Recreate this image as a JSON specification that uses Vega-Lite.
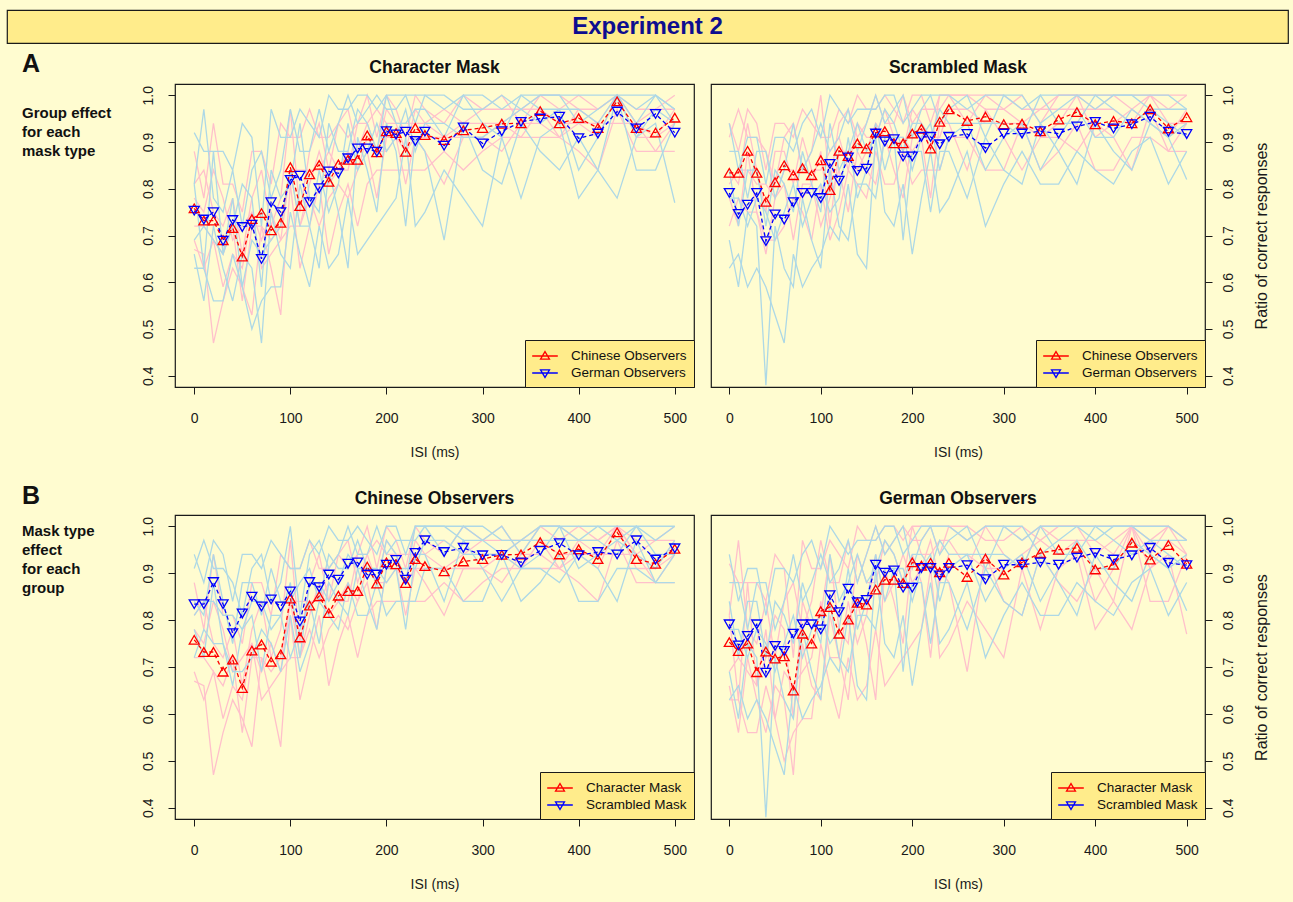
{
"$schema": "https://vega.github.io/schema/vega-lite/v6.json",
"background": "#FFFCD0",
"padding": {"left": 6, "top": 9, "right": 5, "bottom": 10},
"datasets": {
"sets": [
{"s":"CC","g":"Chinese Observers","k":"Character Mask"},
{"s":"GC","g":"German Observers","k":"Character Mask"},
{"s":"CS","g":"Chinese Observers","k":"Scrambled Mask"},
{"s":"GS","g":"German Observers","k":"Scrambled Mask"}
],
"obs": [
{"s":"CC","x":0,"m":0.758,"a":0.88,"b":0.81,"c":0.78,"d":0.72,"e":0.69,"f":0.67},
{"s":"CC","x":10,"m":0.732,"a":0.78,"b":0.84,"c":0.75,"d":0.72,"e":0.63,"f":0.66},
{"s":"CC","x":20,"m":0.732,"a":0.94,"b":0.75,"c":0.84,"d":0.69,"e":0.69,"f":0.47},
{"s":"CC","x":30,"m":0.690,"a":0.81,"b":0.72,"c":0.78,"d":0.66,"e":0.59,"f":0.56},
{"s":"CC","x":40,"m":0.716,"a":0.81,"b":0.78,"c":0.69,"d":0.72,"e":0.66,"f":0.63},
{"s":"CC","x":50,"m":0.655,"a":0.75,"b":0.66,"c":0.72,"d":0.56,"e":0.63,"f":0.59},
{"s":"CC","x":60,"m":0.735,"a":0.88,"b":0.78,"c":0.75,"d":0.72,"e":0.75,"f":0.53},
{"s":"CC","x":70,"m":0.748,"a":0.88,"b":0.84,"c":0.69,"d":0.72,"e":0.63,"f":0.72},
{"s":"CC","x":80,"m":0.711,"a":0.81,"b":0.72,"c":0.75,"d":0.69,"e":0.66,"f":0.63},
{"s":"CC","x":90,"m":0.727,"a":0.94,"b":0.78,"c":0.69,"d":0.72,"e":0.69,"f":0.53},
{"s":"CC","x":100,"m":0.846,"a":0.91,"b":0.97,"c":0.84,"d":0.84,"e":0.72,"f":0.81},
{"s":"CC","x":110,"m":0.763,"a":0.91,"b":0.75,"c":0.84,"d":0.72,"e":0.72,"f":0.63},
{"s":"CC","x":120,"m":0.831,"a":0.97,"b":0.88,"c":0.84,"d":0.81,"e":0.78,"f":0.72},
{"s":"CC","x":130,"m":0.851,"a":0.91,"b":0.94,"c":0.84,"d":0.88,"e":0.72,"f":0.81},
{"s":"CC","x":140,"m":0.815,"a":0.91,"b":0.84,"c":0.88,"d":0.81,"e":0.78,"f":0.66},
{"s":"CC","x":150,"m":0.852,"a":0.94,"b":0.94,"c":0.84,"d":0.84,"e":0.81,"f":0.75},
{"s":"CC","x":160,"m":0.862,"a":0.91,"b":0.97,"c":0.84,"d":0.88,"e":0.78,"f":0.81},
{"s":"CC","x":170,"m":0.862,"a":0.94,"b":0.88,"c":0.94,"d":0.84,"e":0.84,"f":0.72},
{"s":"CC","x":180,"m":0.914,"a":1.0,"b":0.94,"c":0.94,"d":0.91,"e":0.88,"f":0.81},
{"s":"CC","x":190,"m":0.878,"a":0.91,"b":0.97,"c":0.88,"d":0.88,"e":0.78,"f":0.84},
{"s":"CC","x":200,"m":0.923,"a":1.0,"b":0.94,"c":0.97,"d":0.88,"e":0.91,"f":0.84},
{"s":"CC","x":210,"m":0.919,"a":0.97,"b":0.94,"c":0.94,"d":0.91,"e":0.91,"f":0.84},
{"s":"CC","x":220,"m":0.879,"a":0.91,"b":0.94,"c":0.88,"d":0.88,"e":0.81,"f":0.84},
{"s":"CC","x":230,"m":0.930,"a":1.0,"b":0.94,"c":0.97,"d":0.91,"e":0.91,"f":0.84},
{"s":"CC","x":240,"m":0.915,"a":0.97,"b":0.94,"c":0.94,"d":0.91,"e":0.88,"f":0.84},
{"s":"CC","x":260,"m":0.904,"a":0.94,"b":0.97,"c":0.91,"d":0.91,"e":0.81,"f":0.88},
{"s":"CC","x":280,"m":0.925,"a":1.0,"b":0.94,"c":0.94,"d":0.91,"e":0.91,"f":0.84},
{"s":"CC","x":300,"m":0.930,"a":0.97,"b":0.97,"c":0.94,"d":0.91,"e":0.91,"f":0.88},
{"s":"CC","x":320,"m":0.939,"a":0.97,"b":1.0,"c":0.94,"d":0.94,"e":0.88,"f":0.91},
{"s":"CC","x":340,"m":0.940,"a":0.97,"b":0.94,"c":0.97,"d":0.91,"e":0.94,"f":0.91},
{"s":"CC","x":360,"m":0.966,"a":1.0,"b":1.0,"c":0.97,"d":0.97,"e":0.94,"f":0.91},
{"s":"CC","x":380,"m":0.940,"a":0.97,"b":1.0,"c":0.91,"d":0.94,"e":0.91,"f":0.91},
{"s":"CC","x":400,"m":0.951,"a":1.0,"b":0.97,"c":0.97,"d":0.94,"e":0.94,"f":0.88},
{"s":"CC","x":420,"m":0.930,"a":0.97,"b":0.97,"c":0.94,"d":0.91,"e":0.94,"f":0.84},
{"s":"CC","x":440,"m":0.987,"a":1.0,"b":1.0,"c":1.0,"d":1.0,"e":0.94,"f":0.97},
{"s":"CC","x":460,"m":0.930,"a":0.97,"b":0.94,"c":0.94,"d":0.91,"e":0.94,"f":0.88},
{"s":"CC","x":480,"m":0.920,"a":0.97,"b":0.97,"c":0.91,"d":0.91,"e":0.88,"f":0.88},
{"s":"CC","x":500,"m":0.952,"a":0.97,"b":1.0,"c":0.94,"d":0.97,"e":0.88,"f":0.94},
{"s":"GC","x":0,"m":0.753,"a":0.92,"b":0.81,"c":0.81,"d":0.69,"e":0.66,"f":0.63},
{"s":"GC","x":10,"m":0.734,"a":0.88,"b":0.97,"c":0.63,"d":0.72,"e":0.56,"f":0.63},
{"s":"GC","x":20,"m":0.750,"a":0.88,"b":0.78,"c":0.88,"d":0.69,"e":0.72,"f":0.56},
{"s":"GC","x":30,"m":0.689,"a":0.88,"b":0.75,"c":0.66,"d":0.66,"e":0.63,"f":0.56},
{"s":"GC","x":40,"m":0.733,"a":0.84,"b":0.84,"c":0.72,"d":0.78,"e":0.56,"f":0.66},
{"s":"GC","x":50,"m":0.718,"a":0.94,"b":0.72,"c":0.81,"d":0.59,"e":0.66,"f":0.59},
{"s":"GC","x":60,"m":0.723,"a":0.91,"b":0.84,"c":0.78,"d":0.69,"e":0.63,"f":0.50},
{"s":"GC","x":70,"m":0.650,"a":0.72,"b":0.88,"c":0.59,"d":0.66,"e":0.47,"f":0.56},
{"s":"GC","x":80,"m":0.771,"a":0.97,"b":0.78,"c":0.84,"d":0.69,"e":0.75,"f":0.59},
{"s":"GC","x":90,"m":0.750,"a":0.91,"b":0.84,"c":0.78,"d":0.72,"e":0.66,"f":0.59},
{"s":"GC","x":100,"m":0.819,"a":0.91,"b":0.97,"c":0.81,"d":0.84,"e":0.63,"f":0.75},
{"s":"GC","x":110,"m":0.828,"a":0.97,"b":0.88,"c":0.94,"d":0.72,"e":0.81,"f":0.66},
{"s":"GC","x":120,"m":0.771,"a":0.94,"b":0.88,"c":0.78,"d":0.72,"e":0.72,"f":0.59},
{"s":"GC","x":130,"m":0.801,"a":0.91,"b":0.97,"c":0.75,"d":0.84,"e":0.63,"f":0.72},
{"s":"GC","x":140,"m":0.837,"a":1.0,"b":0.88,"c":0.94,"d":0.75,"e":0.84,"f":0.63},
{"s":"GC","x":150,"m":0.833,"a":0.97,"b":0.94,"c":0.88,"d":0.81,"e":0.75,"f":0.66},
{"s":"GC","x":160,"m":0.865,"a":0.97,"b":1.0,"c":0.88,"d":0.94,"e":0.63,"f":0.78},
{"s":"GC","x":170,"m":0.886,"a":1.0,"b":0.94,"c":0.97,"d":0.84,"e":0.91,"f":0.66},
{"s":"GC","x":180,"m":0.886,"a":1.0,"b":0.97,"c":0.94,"d":0.88,"e":0.84,"f":0.69},
{"s":"GC","x":190,"m":0.879,"a":0.97,"b":1.0,"c":0.88,"d":0.94,"e":0.75,"f":0.72},
{"s":"GC","x":200,"m":0.923,"a":1.0,"b":0.97,"c":1.0,"d":0.88,"e":0.94,"f":0.75},
{"s":"GC","x":210,"m":0.916,"a":1.0,"b":0.97,"c":0.94,"d":0.91,"e":0.88,"f":0.78},
{"s":"GC","x":220,"m":0.922,"a":1.0,"b":1.0,"c":0.94,"d":0.97,"e":0.72,"f":0.91},
{"s":"GC","x":230,"m":0.902,"a":1.0,"b":0.94,"c":0.97,"d":0.88,"e":0.91,"f":0.72},
{"s":"GC","x":240,"m":0.922,"a":1.0,"b":1.0,"c":0.97,"d":0.94,"e":0.88,"f":0.75},
{"s":"GC","x":260,"m":0.892,"a":0.97,"b":1.0,"c":0.91,"d":0.94,"e":0.69,"f":0.84},
{"s":"GC","x":280,"m":0.931,"a":1.0,"b":0.97,"c":1.0,"d":0.91,"e":0.94,"f":0.78},
{"s":"GC","x":300,"m":0.897,"a":1.0,"b":0.97,"c":0.94,"d":0.91,"e":0.84,"f":0.72},
{"s":"GC","x":320,"m":0.923,"a":0.97,"b":1.0,"c":0.91,"d":0.94,"e":0.81,"f":0.91},
{"s":"GC","x":340,"m":0.943,"a":1.0,"b":0.97,"c":1.0,"d":0.97,"e":0.94,"f":0.78},
{"s":"GC","x":360,"m":0.950,"a":1.0,"b":1.0,"c":0.97,"d":0.94,"e":0.88,"f":0.91},
{"s":"GC","x":380,"m":0.954,"a":1.0,"b":1.0,"c":0.97,"d":0.97,"e":0.84,"f":0.94},
{"s":"GC","x":400,"m":0.908,"a":1.0,"b":0.94,"c":0.97,"d":0.84,"e":0.91,"f":0.78},
{"s":"GC","x":420,"m":0.918,"a":1.0,"b":0.97,"c":0.94,"d":0.91,"e":0.84,"f":0.84},
{"s":"GC","x":440,"m":0.965,"a":1.0,"b":1.0,"c":1.0,"d":1.0,"e":0.78,"f":1.0},
{"s":"GC","x":460,"m":0.929,"a":1.0,"b":0.94,"c":0.97,"d":0.91,"e":0.91,"f":0.84},
{"s":"GC","x":480,"m":0.960,"a":1.0,"b":1.0,"c":1.0,"d":0.97,"e":0.94,"f":0.84},
{"s":"GC","x":500,"m":0.920,"a":0.97,"b":0.97,"c":0.94,"d":0.94,"e":0.77,"f":0.94},
{"s":"CS","x":0,"m":0.834,"a":0.94,"b":0.91,"c":0.84,"d":0.81,"e":0.78,"f":0.72},
{"s":"CS","x":10,"m":0.834,"a":0.88,"b":0.97,"c":0.81,"d":0.84,"e":0.72,"f":0.78},
{"s":"CS","x":20,"m":0.881,"a":0.97,"b":0.91,"c":0.94,"d":0.84,"e":0.88,"f":0.75},
{"s":"CS","x":30,"m":0.834,"a":0.94,"b":0.91,"c":0.84,"d":0.81,"e":0.75,"f":0.75},
{"s":"CS","x":40,"m":0.772,"a":0.84,"b":0.88,"c":0.75,"d":0.81,"e":0.66,"f":0.69},
{"s":"CS","x":50,"m":0.814,"a":0.94,"b":0.81,"c":0.88,"d":0.78,"e":0.78,"f":0.69},
{"s":"CS","x":60,"m":0.850,"a":0.94,"b":0.91,"c":0.88,"d":0.84,"e":0.81,"f":0.72},
{"s":"CS","x":70,"m":0.829,"a":0.91,"b":0.94,"c":0.81,"d":0.84,"e":0.69,"f":0.78},
{"s":"CS","x":80,"m":0.844,"a":0.97,"b":0.84,"c":0.91,"d":0.78,"e":0.81,"f":0.75},
{"s":"CS","x":90,"m":0.829,"a":0.94,"b":0.88,"c":0.84,"d":0.81,"e":0.81,"f":0.69},
{"s":"CS","x":100,"m":0.861,"a":0.91,"b":1.0,"c":0.84,"d":0.88,"e":0.72,"f":0.81},
{"s":"CS","x":110,"m":0.797,"a":0.91,"b":0.81,"c":0.88,"d":0.72,"e":0.78,"f":0.69},
{"s":"CS","x":120,"m":0.881,"a":0.97,"b":0.94,"c":0.91,"d":0.88,"e":0.84,"f":0.75},
{"s":"CS","x":130,"m":0.870,"a":0.94,"b":0.97,"c":0.84,"d":0.88,"e":0.75,"f":0.84},
{"s":"CS","x":140,"m":0.897,"a":1.0,"b":0.91,"c":0.94,"d":0.84,"e":0.88,"f":0.81},
{"s":"CS","x":150,"m":0.886,"a":0.97,"b":0.94,"c":0.91,"d":0.88,"e":0.84,"f":0.78},
{"s":"CS","x":160,"m":0.920,"a":0.97,"b":1.0,"c":0.91,"d":0.94,"e":0.81,"f":0.88},
{"s":"CS","x":170,"m":0.923,"a":1.0,"b":0.94,"c":0.97,"d":0.91,"e":0.91,"f":0.81},
{"s":"CS","x":180,"m":0.897,"a":0.97,"b":0.94,"c":0.91,"d":0.91,"e":0.84,"f":0.81},
{"s":"CS","x":190,"m":0.897,"a":0.94,"b":1.0,"c":0.88,"d":0.91,"e":0.78,"f":0.88},
{"s":"CS","x":200,"m":0.918,"a":1.0,"b":0.94,"c":0.97,"d":0.88,"e":0.91,"f":0.81},
{"s":"CS","x":210,"m":0.928,"a":1.0,"b":0.97,"c":0.94,"d":0.91,"e":0.91,"f":0.84},
{"s":"CS","x":220,"m":0.886,"a":0.94,"b":0.97,"c":0.88,"d":0.91,"e":0.78,"f":0.84},
{"s":"CS","x":230,"m":0.943,"a":1.0,"b":0.97,"c":1.0,"d":0.91,"e":0.94,"f":0.84},
{"s":"CS","x":240,"m":0.970,"a":1.0,"b":1.0,"c":1.0,"d":0.97,"e":0.94,"f":0.91},
{"s":"CS","x":260,"m":0.945,"a":1.0,"b":1.0,"c":0.94,"d":0.97,"e":0.84,"f":0.91},
{"s":"CS","x":280,"m":0.954,"a":1.0,"b":0.97,"c":1.0,"d":0.94,"e":0.97,"f":0.84},
{"s":"CS","x":300,"m":0.938,"a":1.0,"b":0.97,"c":0.97,"d":0.94,"e":0.91,"f":0.84},
{"s":"CS","x":320,"m":0.939,"a":0.97,"b":1.0,"c":0.94,"d":0.94,"e":0.84,"f":0.94},
{"s":"CS","x":340,"m":0.923,"a":0.97,"b":0.94,"c":0.97,"d":0.91,"e":0.91,"f":0.84},
{"s":"CS","x":360,"m":0.948,"a":1.0,"b":1.0,"c":0.97,"d":0.94,"e":0.91,"f":0.88},
{"s":"CS","x":380,"m":0.964,"a":1.0,"b":1.0,"c":0.97,"d":1.0,"e":0.88,"f":0.94},
{"s":"CS","x":400,"m":0.938,"a":1.0,"b":0.97,"c":0.97,"d":0.91,"e":0.94,"f":0.84},
{"s":"CS","x":420,"m":0.945,"a":1.0,"b":1.0,"c":0.97,"d":0.94,"e":0.91,"f":0.84},
{"s":"CS","x":440,"m":0.940,"a":0.97,"b":1.0,"c":0.94,"d":0.97,"e":0.84,"f":0.91},
{"s":"CS","x":460,"m":0.970,"a":1.0,"b":1.0,"c":1.0,"d":0.94,"e":0.97,"f":0.91},
{"s":"CS","x":480,"m":0.929,"a":1.0,"b":0.97,"c":0.94,"d":0.91,"e":0.88,"f":0.88},
{"s":"CS","x":500,"m":0.953,"a":1.0,"b":1.0,"c":0.94,"d":0.97,"e":0.88,"f":0.94},
{"s":"GS","x":0,"m":0.791,"a":0.94,"b":0.88,"c":0.84,"d":0.78,"e":0.69,"f":0.63},
{"s":"GS","x":10,"m":0.746,"a":0.84,"b":0.88,"c":0.72,"d":0.78,"e":0.59,"f":0.66},
{"s":"GS","x":20,"m":0.766,"a":0.91,"b":0.78,"c":0.84,"d":0.72,"e":0.75,"f":0.59},
{"s":"GS","x":30,"m":0.791,"a":0.91,"b":0.88,"c":0.84,"d":0.78,"e":0.72,"f":0.63},
{"s":"GS","x":40,"m":0.688,"a":0.81,"b":0.88,"c":0.72,"d":0.75,"e":0.38,"f":0.59},
{"s":"GS","x":50,"m":0.745,"a":0.91,"b":0.78,"c":0.84,"d":0.69,"e":0.72,"f":0.53},
{"s":"GS","x":60,"m":0.734,"a":0.91,"b":0.84,"c":0.81,"d":0.75,"e":0.63,"f":0.47},
{"s":"GS","x":70,"m":0.771,"a":0.88,"b":0.94,"c":0.75,"d":0.81,"e":0.59,"f":0.66},
{"s":"GS","x":80,"m":0.791,"a":0.94,"b":0.84,"c":0.88,"d":0.72,"e":0.78,"f":0.59},
{"s":"GS","x":90,"m":0.791,"a":0.97,"b":0.88,"c":0.81,"d":0.78,"e":0.69,"f":0.63},
{"s":"GS","x":100,"m":0.780,"a":0.91,"b":0.94,"c":0.75,"d":0.81,"e":0.63,"f":0.66},
{"s":"GS","x":110,"m":0.853,"a":1.0,"b":0.88,"c":0.94,"d":0.75,"e":0.84,"f":0.72},
{"s":"GS","x":120,"m":0.817,"a":0.97,"b":0.91,"c":0.84,"d":0.78,"e":0.72,"f":0.69},
{"s":"GS","x":130,"m":0.867,"a":0.94,"b":0.97,"c":0.88,"d":0.91,"e":0.69,"f":0.81},
{"s":"GS","x":140,"m":0.838,"a":0.97,"b":0.88,"c":0.94,"d":0.78,"e":0.81,"f":0.66},
{"s":"GS","x":150,"m":0.843,"a":0.97,"b":0.94,"c":0.88,"d":0.84,"e":0.81,"f":0.63},
{"s":"GS","x":160,"m":0.918,"a":0.97,"b":1.0,"c":0.91,"d":0.94,"e":0.78,"f":0.91},
{"s":"GS","x":170,"m":0.901,"a":1.0,"b":0.94,"c":0.97,"d":0.84,"e":0.91,"f":0.75},
{"s":"GS","x":180,"m":0.906,"a":1.0,"b":0.97,"c":0.94,"d":0.91,"e":0.91,"f":0.72},
{"s":"GS","x":190,"m":0.869,"a":0.94,"b":1.0,"c":0.88,"d":0.91,"e":0.69,"f":0.81},
{"s":"GS","x":200,"m":0.869,"a":0.97,"b":0.91,"c":0.94,"d":0.84,"e":0.88,"f":0.66},
{"s":"GS","x":210,"m":0.911,"a":1.0,"b":0.97,"c":0.94,"d":0.91,"e":0.88,"f":0.78},
{"s":"GS","x":220,"m":0.911,"a":1.0,"b":1.0,"c":0.91,"d":0.94,"e":0.75,"f":0.88},
{"s":"GS","x":230,"m":0.895,"a":1.0,"b":0.94,"c":0.97,"d":0.84,"e":0.88,"f":0.75},
{"s":"GS","x":240,"m":0.911,"a":1.0,"b":0.97,"c":0.94,"d":0.91,"e":0.88,"f":0.78},
{"s":"GS","x":260,"m":0.917,"a":0.97,"b":1.0,"c":0.94,"d":0.94,"e":0.78,"f":0.88},
{"s":"GS","x":280,"m":0.887,"a":1.0,"b":0.91,"c":0.94,"d":0.84,"e":0.91,"f":0.72},
{"s":"GS","x":300,"m":0.918,"a":1.0,"b":1.0,"c":0.94,"d":0.91,"e":0.84,"f":0.81},
{"s":"GS","x":320,"m":0.918,"a":0.97,"b":1.0,"c":0.91,"d":0.94,"e":0.81,"f":0.88},
{"s":"GS","x":340,"m":0.923,"a":1.0,"b":0.94,"c":1.0,"d":0.84,"e":0.94,"f":0.81},
{"s":"GS","x":360,"m":0.918,"a":1.0,"b":0.97,"c":0.94,"d":0.91,"e":0.88,"f":0.81},
{"s":"GS","x":380,"m":0.933,"a":1.0,"b":1.0,"c":0.94,"d":0.97,"e":0.81,"f":0.88},
{"s":"GS","x":400,"m":0.943,"a":1.0,"b":0.97,"c":1.0,"d":0.91,"e":0.94,"f":0.84},
{"s":"GS","x":420,"m":0.929,"a":1.0,"b":1.0,"c":0.97,"d":0.91,"e":0.88,"f":0.81},
{"s":"GS","x":440,"m":0.938,"a":1.0,"b":1.0,"c":0.94,"d":0.97,"e":0.84,"f":0.88},
{"s":"GS","x":460,"m":0.954,"a":1.0,"b":0.97,"c":0.97,"d":0.94,"e":0.94,"f":0.91},
{"s":"GS","x":480,"m":0.922,"a":1.0,"b":0.97,"c":0.94,"d":0.91,"e":0.91,"f":0.81},
{"s":"GS","x":500,"m":0.917,"a":0.97,"b":0.97,"c":0.91,"d":0.94,"e":0.82,"f":0.88}
]
},
"spacing": 8,
"resolve": {"scale": {"x": "independent", "y": "independent", "color": "independent", "stroke": "independent"}, "legend": {"color": "independent", "stroke": "independent"}},
"vconcat": [
{
"width": 1281, "height": 33,
"view": {"fill": "#FFEC8B", "stroke": "#1a1a1a", "strokeWidth": 1.2},
"data": {"values": [{"t": "Experiment 2"}]},
"mark": {"type": "text", "font": "Liberation Sans", "fontSize": 24, "fontWeight": "bold", "color": "#0D0D8F", "baseline": "middle", "align": "center"},
"encoding": {"text": {"field": "t", "type": "nominal"}}
},
{
"spacing": 24,
"resolve": {"scale": {"x": "independent", "y": "independent", "color": "independent", "stroke": "independent"}, "legend": {"color": "independent", "stroke": "independent"}},
"vconcat": [
{
"spacing": 14,
"resolve": {"scale": {"x": "independent", "y": "independent", "color": "independent", "stroke": "independent"}, "legend": {"color": "independent", "stroke": "independent"}},
"hconcat": [
{
"width": 119, "height": 303,
"view": {"stroke": null},
"title": {"text": "A", "subtitle": ["Group effect", "for each", "mask type"], "anchor": "start", "frame": "group", "dx": 15, "fontSize": 25, "baseline": "top", "offset": -75, "subtitleFont": "Liberation Sans", "subtitleFontSize": 15, "subtitleFontWeight": "bold", "subtitleColor": "#111111", "subtitleLineHeight": 19, "subtitlePadding": 29},
"data": {"values": [{"t": ""}]},
"mark": {"type": "text"},
"encoding": {"text": {"field": "t", "type": "nominal"}}
},
{
"width": 519, "height": 303,
"title": {"text": "Character Mask"},
"data": {"name": "obs"},
"transform": [
{"lookup": "s", "from": {"data": {"name": "sets"}, "key": "s", "fields": ["g", "k"]}},
{"filter": {"field": "k", "equal": "Character Mask"}}
],
"encoding": {
"x": {"field": "x", "type": "quantitative", "scale": {"domain": [-20, 520], "nice": false, "zero": false}, "axis": {"values": [0, 100, 200, 300, 400, 500], "title": "ISI (ms)"}}
},
"layer": [
{"transform": [{"fold": ["a", "b", "c", "d", "e", "f"], "as": ["obs", "v"]}],
"mark": {"type": "line", "strokeWidth": 1.3},
"encoding": {
"y": {"field": "v", "type": "quantitative", "scale": {"domain": [0.376, 1.024], "nice": false, "zero": false}, "axis": {"orient": "left", "values": [0.4, 0.5, 0.6, 0.7, 0.8, 0.9, 1.0], "format": ".1f", "labelAngle": 270, "labelAlign": "center", "labelBaseline": "bottom", "labelPadding": 13, "title": null}},
"stroke": {"field": "s", "type": "nominal", "scale": {"domain": ["CC", "GC"], "range": ["#FFC0CB", "#ADD8E6"]}, "legend": null},
"detail": {"field": "obs", "type": "nominal"}}},
{"mark": {"type": "line", "strokeWidth": 1.3, "strokeDash": [4, 3]},
"encoding": {
"y": {"field": "m", "type": "quantitative", "scale": {"domain": [0.376, 1.024], "nice": false, "zero": false}, "axis": {"orient": "left", "values": [0.4, 0.5, 0.6, 0.7, 0.8, 0.9, 1.0], "format": ".1f", "labelAngle": 270, "labelAlign": "center", "labelBaseline": "bottom", "labelPadding": 13, "title": null}},
"color": {"field": "g", "type": "nominal", "scale": {"domain": ["Chinese Observers", "German Observers"], "range": ["#FF0000", "#0000FF"]}, "legend": {"title": null, "orient": "bottom-right", "offset": 0, "padding": 7, "fillColor": "#FFEC8B", "strokeColor": "#1a1a1a", "labelFont": "Liberation Sans", "labelFontSize": 13.5, "labelColor": "#111111", "labelOffset": 17, "symbolSize": 256, "symbolOffset": 4, "symbolStrokeWidth": 1.3, "rowPadding": 1, "encode": {"symbols": {"update": {"shape": {"signal": "indexof(['Chinese Observers','Character Mask'], datum.value) >= 0 ? 'M-1.6,0H1.6M0,-0.55L0.56,0.4L-0.56,0.4Z' : 'M-1.6,0H1.6M-0.56,-0.4L0.56,-0.4L0,0.55Z'"}, "fill": {"value": "transparent"}, "strokeDash": {"value": []}, "opacity": {"value": 1}}}}}}}},
{"transform": [{"filter": {"field": "g", "equal": "Chinese Observers"}}],
"mark": {"type": "point", "shape": "triangle-up", "filled": false, "size": 100, "strokeWidth": 1.3, "opacity": 1},
"encoding": {
"y": {"field": "m", "type": "quantitative", "scale": {"domain": [0.376, 1.024], "nice": false, "zero": false}, "axis": {"orient": "left", "values": [0.4, 0.5, 0.6, 0.7, 0.8, 0.9, 1.0], "format": ".1f", "labelAngle": 270, "labelAlign": "center", "labelBaseline": "bottom", "labelPadding": 13, "title": null}},
"color": {"field": "g", "type": "nominal", "scale": {"domain": ["Chinese Observers", "German Observers"], "range": ["#FF0000", "#0000FF"]}}}},
{"transform": [{"filter": {"field": "g", "equal": "German Observers"}}],
"mark": {"type": "point", "shape": "triangle-down", "filled": false, "size": 100, "strokeWidth": 1.3, "opacity": 1},
"encoding": {
"y": {"field": "m", "type": "quantitative", "scale": {"domain": [0.376, 1.024], "nice": false, "zero": false}, "axis": {"orient": "left", "values": [0.4, 0.5, 0.6, 0.7, 0.8, 0.9, 1.0], "format": ".1f", "labelAngle": 270, "labelAlign": "center", "labelBaseline": "bottom", "labelPadding": 13, "title": null}},
"color": {"field": "g", "type": "nominal", "scale": {"domain": ["Chinese Observers", "German Observers"], "range": ["#FF0000", "#0000FF"]}}}}
]
},
{
"width": 494, "height": 303,
"title": {"text": "Scrambled Mask"},
"data": {"name": "obs"},
"transform": [
{"lookup": "s", "from": {"data": {"name": "sets"}, "key": "s", "fields": ["g", "k"]}},
{"filter": {"field": "k", "equal": "Scrambled Mask"}}
],
"encoding": {
"x": {"field": "x", "type": "quantitative", "scale": {"domain": [-20, 520], "nice": false, "zero": false}, "axis": {"values": [0, 100, 200, 300, 400, 500], "title": "ISI (ms)"}}
},
"layer": [
{"transform": [{"fold": ["a", "b", "c", "d", "e", "f"], "as": ["obs", "v"]}],
"mark": {"type": "line", "strokeWidth": 1.3},
"encoding": {
"y": {"field": "v", "type": "quantitative", "scale": {"domain": [0.376, 1.024], "nice": false, "zero": false}, "axis": {"orient": "right", "values": [0.4, 0.5, 0.6, 0.7, 0.8, 0.9, 1.0], "format": ".1f", "labelAngle": 270, "labelAlign": "center", "labelBaseline": "top", "labelPadding": 9, "title": "Ratio of correct responses", "titleFontSize": 16, "titleAngle": 270, "titleBaseline": "top", "titlePadding": 18}},
"stroke": {"field": "s", "type": "nominal", "scale": {"domain": ["CS", "GS"], "range": ["#FFC0CB", "#ADD8E6"]}, "legend": null},
"detail": {"field": "obs", "type": "nominal"}}},
{"mark": {"type": "line", "strokeWidth": 1.3, "strokeDash": [4, 3]},
"encoding": {
"y": {"field": "m", "type": "quantitative", "scale": {"domain": [0.376, 1.024], "nice": false, "zero": false}, "axis": {"orient": "right", "values": [0.4, 0.5, 0.6, 0.7, 0.8, 0.9, 1.0], "format": ".1f", "labelAngle": 270, "labelAlign": "center", "labelBaseline": "top", "labelPadding": 9, "title": "Ratio of correct responses", "titleFontSize": 16, "titleAngle": 270, "titleBaseline": "top", "titlePadding": 18}},
"color": {"field": "g", "type": "nominal", "scale": {"domain": ["Chinese Observers", "German Observers"], "range": ["#FF0000", "#0000FF"]}, "legend": {"title": null, "orient": "bottom-right", "offset": 0, "padding": 7, "fillColor": "#FFEC8B", "strokeColor": "#1a1a1a", "labelFont": "Liberation Sans", "labelFontSize": 13.5, "labelColor": "#111111", "labelOffset": 17, "symbolSize": 256, "symbolOffset": 4, "symbolStrokeWidth": 1.3, "rowPadding": 1, "encode": {"symbols": {"update": {"shape": {"signal": "indexof(['Chinese Observers','Character Mask'], datum.value) >= 0 ? 'M-1.6,0H1.6M0,-0.55L0.56,0.4L-0.56,0.4Z' : 'M-1.6,0H1.6M-0.56,-0.4L0.56,-0.4L0,0.55Z'"}, "fill": {"value": "transparent"}, "strokeDash": {"value": []}, "opacity": {"value": 1}}}}}}}},
{"transform": [{"filter": {"field": "g", "equal": "Chinese Observers"}}],
"mark": {"type": "point", "shape": "triangle-up", "filled": false, "size": 100, "strokeWidth": 1.3, "opacity": 1},
"encoding": {
"y": {"field": "m", "type": "quantitative", "scale": {"domain": [0.376, 1.024], "nice": false, "zero": false}, "axis": {"orient": "right", "values": [0.4, 0.5, 0.6, 0.7, 0.8, 0.9, 1.0], "format": ".1f", "labelAngle": 270, "labelAlign": "center", "labelBaseline": "top", "labelPadding": 9, "title": "Ratio of correct responses", "titleFontSize": 16, "titleAngle": 270, "titleBaseline": "top", "titlePadding": 18}},
"color": {"field": "g", "type": "nominal", "scale": {"domain": ["Chinese Observers", "German Observers"], "range": ["#FF0000", "#0000FF"]}}}},
{"transform": [{"filter": {"field": "g", "equal": "German Observers"}}],
"mark": {"type": "point", "shape": "triangle-down", "filled": false, "size": 100, "strokeWidth": 1.3, "opacity": 1},
"encoding": {
"y": {"field": "m", "type": "quantitative", "scale": {"domain": [0.376, 1.024], "nice": false, "zero": false}, "axis": {"orient": "right", "values": [0.4, 0.5, 0.6, 0.7, 0.8, 0.9, 1.0], "format": ".1f", "labelAngle": 270, "labelAlign": "center", "labelBaseline": "top", "labelPadding": 9, "title": "Ratio of correct responses", "titleFontSize": 16, "titleAngle": 270, "titleBaseline": "top", "titlePadding": 18}},
"color": {"field": "g", "type": "nominal", "scale": {"domain": ["Chinese Observers", "German Observers"], "range": ["#FF0000", "#0000FF"]}}}}
]
}
]
},
{
"spacing": 14,
"resolve": {"scale": {"x": "independent", "y": "independent", "color": "independent", "stroke": "independent"}, "legend": {"color": "independent", "stroke": "independent"}},
"hconcat": [
{
"width": 119, "height": 304,
"view": {"stroke": null},
"title": {"text": "B", "subtitle": ["Mask type", "effect", "for each", "group"], "anchor": "start", "frame": "group", "dx": 15, "fontSize": 25, "baseline": "top", "offset": -81, "subtitleFont": "Liberation Sans", "subtitleFontSize": 15, "subtitleFontWeight": "bold", "subtitleColor": "#111111", "subtitleLineHeight": 19, "subtitlePadding": 15},
"data": {"values": [{"t": ""}]},
"mark": {"type": "text"},
"encoding": {"text": {"field": "t", "type": "nominal"}}
},
{
"width": 519, "height": 304,
"title": {"text": "Chinese Observers"},
"data": {"name": "obs"},
"transform": [
{"lookup": "s", "from": {"data": {"name": "sets"}, "key": "s", "fields": ["g", "k"]}},
{"filter": {"field": "g", "equal": "Chinese Observers"}}
],
"encoding": {
"x": {"field": "x", "type": "quantitative", "scale": {"domain": [-20, 520], "nice": false, "zero": false}, "axis": {"values": [0, 100, 200, 300, 400, 500], "title": "ISI (ms)"}}
},
"layer": [
{"transform": [{"fold": ["a", "b", "c", "d", "e", "f"], "as": ["obs", "v"]}],
"mark": {"type": "line", "strokeWidth": 1.3},
"encoding": {
"y": {"field": "v", "type": "quantitative", "scale": {"domain": [0.376, 1.024], "nice": false, "zero": false}, "axis": {"orient": "left", "values": [0.4, 0.5, 0.6, 0.7, 0.8, 0.9, 1.0], "format": ".1f", "labelAngle": 270, "labelAlign": "center", "labelBaseline": "bottom", "labelPadding": 13, "title": null}},
"stroke": {"field": "s", "type": "nominal", "scale": {"domain": ["CC", "CS"], "range": ["#FFC0CB", "#ADD8E6"]}, "legend": null},
"detail": {"field": "obs", "type": "nominal"}}},
{"mark": {"type": "line", "strokeWidth": 1.3, "strokeDash": [4, 3]},
"encoding": {
"y": {"field": "m", "type": "quantitative", "scale": {"domain": [0.376, 1.024], "nice": false, "zero": false}, "axis": {"orient": "left", "values": [0.4, 0.5, 0.6, 0.7, 0.8, 0.9, 1.0], "format": ".1f", "labelAngle": 270, "labelAlign": "center", "labelBaseline": "bottom", "labelPadding": 13, "title": null}},
"color": {"field": "k", "type": "nominal", "scale": {"domain": ["Character Mask", "Scrambled Mask"], "range": ["#FF0000", "#0000FF"]}, "legend": {"title": null, "orient": "bottom-right", "offset": 0, "padding": 7, "fillColor": "#FFEC8B", "strokeColor": "#1a1a1a", "labelFont": "Liberation Sans", "labelFontSize": 13.5, "labelColor": "#111111", "labelOffset": 17, "symbolSize": 256, "symbolOffset": 4, "symbolStrokeWidth": 1.3, "rowPadding": 1, "encode": {"symbols": {"update": {"shape": {"signal": "indexof(['Chinese Observers','Character Mask'], datum.value) >= 0 ? 'M-1.6,0H1.6M0,-0.55L0.56,0.4L-0.56,0.4Z' : 'M-1.6,0H1.6M-0.56,-0.4L0.56,-0.4L0,0.55Z'"}, "fill": {"value": "transparent"}, "strokeDash": {"value": []}, "opacity": {"value": 1}}}}}}}},
{"transform": [{"filter": {"field": "k", "equal": "Character Mask"}}],
"mark": {"type": "point", "shape": "triangle-up", "filled": false, "size": 100, "strokeWidth": 1.3, "opacity": 1},
"encoding": {
"y": {"field": "m", "type": "quantitative", "scale": {"domain": [0.376, 1.024], "nice": false, "zero": false}, "axis": {"orient": "left", "values": [0.4, 0.5, 0.6, 0.7, 0.8, 0.9, 1.0], "format": ".1f", "labelAngle": 270, "labelAlign": "center", "labelBaseline": "bottom", "labelPadding": 13, "title": null}},
"color": {"field": "k", "type": "nominal", "scale": {"domain": ["Character Mask", "Scrambled Mask"], "range": ["#FF0000", "#0000FF"]}}}},
{"transform": [{"filter": {"field": "k", "equal": "Scrambled Mask"}}],
"mark": {"type": "point", "shape": "triangle-down", "filled": false, "size": 100, "strokeWidth": 1.3, "opacity": 1},
"encoding": {
"y": {"field": "m", "type": "quantitative", "scale": {"domain": [0.376, 1.024], "nice": false, "zero": false}, "axis": {"orient": "left", "values": [0.4, 0.5, 0.6, 0.7, 0.8, 0.9, 1.0], "format": ".1f", "labelAngle": 270, "labelAlign": "center", "labelBaseline": "bottom", "labelPadding": 13, "title": null}},
"color": {"field": "k", "type": "nominal", "scale": {"domain": ["Character Mask", "Scrambled Mask"], "range": ["#FF0000", "#0000FF"]}}}}
]
},
{
"width": 494, "height": 304,
"title": {"text": "German Observers"},
"data": {"name": "obs"},
"transform": [
{"lookup": "s", "from": {"data": {"name": "sets"}, "key": "s", "fields": ["g", "k"]}},
{"filter": {"field": "g", "equal": "German Observers"}}
],
"encoding": {
"x": {"field": "x", "type": "quantitative", "scale": {"domain": [-20, 520], "nice": false, "zero": false}, "axis": {"values": [0, 100, 200, 300, 400, 500], "title": "ISI (ms)"}}
},
"layer": [
{"transform": [{"fold": ["a", "b", "c", "d", "e", "f"], "as": ["obs", "v"]}],
"mark": {"type": "line", "strokeWidth": 1.3},
"encoding": {
"y": {"field": "v", "type": "quantitative", "scale": {"domain": [0.376, 1.024], "nice": false, "zero": false}, "axis": {"orient": "right", "values": [0.4, 0.5, 0.6, 0.7, 0.8, 0.9, 1.0], "format": ".1f", "labelAngle": 270, "labelAlign": "center", "labelBaseline": "top", "labelPadding": 9, "title": "Ratio of correct responses", "titleFontSize": 16, "titleAngle": 270, "titleBaseline": "top", "titlePadding": 18}},
"stroke": {"field": "s", "type": "nominal", "scale": {"domain": ["GC", "GS"], "range": ["#FFC0CB", "#ADD8E6"]}, "legend": null},
"detail": {"field": "obs", "type": "nominal"}}},
{"mark": {"type": "line", "strokeWidth": 1.3, "strokeDash": [4, 3]},
"encoding": {
"y": {"field": "m", "type": "quantitative", "scale": {"domain": [0.376, 1.024], "nice": false, "zero": false}, "axis": {"orient": "right", "values": [0.4, 0.5, 0.6, 0.7, 0.8, 0.9, 1.0], "format": ".1f", "labelAngle": 270, "labelAlign": "center", "labelBaseline": "top", "labelPadding": 9, "title": "Ratio of correct responses", "titleFontSize": 16, "titleAngle": 270, "titleBaseline": "top", "titlePadding": 18}},
"color": {"field": "k", "type": "nominal", "scale": {"domain": ["Character Mask", "Scrambled Mask"], "range": ["#FF0000", "#0000FF"]}, "legend": {"title": null, "orient": "bottom-right", "offset": 0, "padding": 7, "fillColor": "#FFEC8B", "strokeColor": "#1a1a1a", "labelFont": "Liberation Sans", "labelFontSize": 13.5, "labelColor": "#111111", "labelOffset": 17, "symbolSize": 256, "symbolOffset": 4, "symbolStrokeWidth": 1.3, "rowPadding": 1, "encode": {"symbols": {"update": {"shape": {"signal": "indexof(['Chinese Observers','Character Mask'], datum.value) >= 0 ? 'M-1.6,0H1.6M0,-0.55L0.56,0.4L-0.56,0.4Z' : 'M-1.6,0H1.6M-0.56,-0.4L0.56,-0.4L0,0.55Z'"}, "fill": {"value": "transparent"}, "strokeDash": {"value": []}, "opacity": {"value": 1}}}}}}}},
{"transform": [{"filter": {"field": "k", "equal": "Character Mask"}}],
"mark": {"type": "point", "shape": "triangle-up", "filled": false, "size": 100, "strokeWidth": 1.3, "opacity": 1},
"encoding": {
"y": {"field": "m", "type": "quantitative", "scale": {"domain": [0.376, 1.024], "nice": false, "zero": false}, "axis": {"orient": "right", "values": [0.4, 0.5, 0.6, 0.7, 0.8, 0.9, 1.0], "format": ".1f", "labelAngle": 270, "labelAlign": "center", "labelBaseline": "top", "labelPadding": 9, "title": "Ratio of correct responses", "titleFontSize": 16, "titleAngle": 270, "titleBaseline": "top", "titlePadding": 18}},
"color": {"field": "k", "type": "nominal", "scale": {"domain": ["Character Mask", "Scrambled Mask"], "range": ["#FF0000", "#0000FF"]}}}},
{"transform": [{"filter": {"field": "k", "equal": "Scrambled Mask"}}],
"mark": {"type": "point", "shape": "triangle-down", "filled": false, "size": 100, "strokeWidth": 1.3, "opacity": 1},
"encoding": {
"y": {"field": "m", "type": "quantitative", "scale": {"domain": [0.376, 1.024], "nice": false, "zero": false}, "axis": {"orient": "right", "values": [0.4, 0.5, 0.6, 0.7, 0.8, 0.9, 1.0], "format": ".1f", "labelAngle": 270, "labelAlign": "center", "labelBaseline": "top", "labelPadding": 9, "title": "Ratio of correct responses", "titleFontSize": 16, "titleAngle": 270, "titleBaseline": "top", "titlePadding": 18}},
"color": {"field": "k", "type": "nominal", "scale": {"domain": ["Character Mask", "Scrambled Mask"], "range": ["#FF0000", "#0000FF"]}}}}
]
}
]
}
]
}
],
"config": {
"font": "Liberation Sans",
"view": {"stroke": "#1a1a1a", "strokeWidth": 1.2},
"axis": {"grid": false, "domain": false, "ticks": true, "tickColor": "#1a1a1a", "tickSize": 7, "tickWidth": 1, "labelFont": "Liberation Sans", "labelFontSize": 14, "labelColor": "#1a1a1a", "titleFont": "Liberation Sans", "titleFontSize": 14, "titleFontWeight": "normal", "titleColor": "#1a1a1a", "labelFlush": false, "labelOverlap": false},
"axisX": {"labelPadding": 17, "titlePadding": 20},
"title": {"font": "Liberation Sans", "fontSize": 17.5, "fontWeight": "bold", "color": "#111111", "offset": 8, "baseline": "alphabetic"}
}
}
